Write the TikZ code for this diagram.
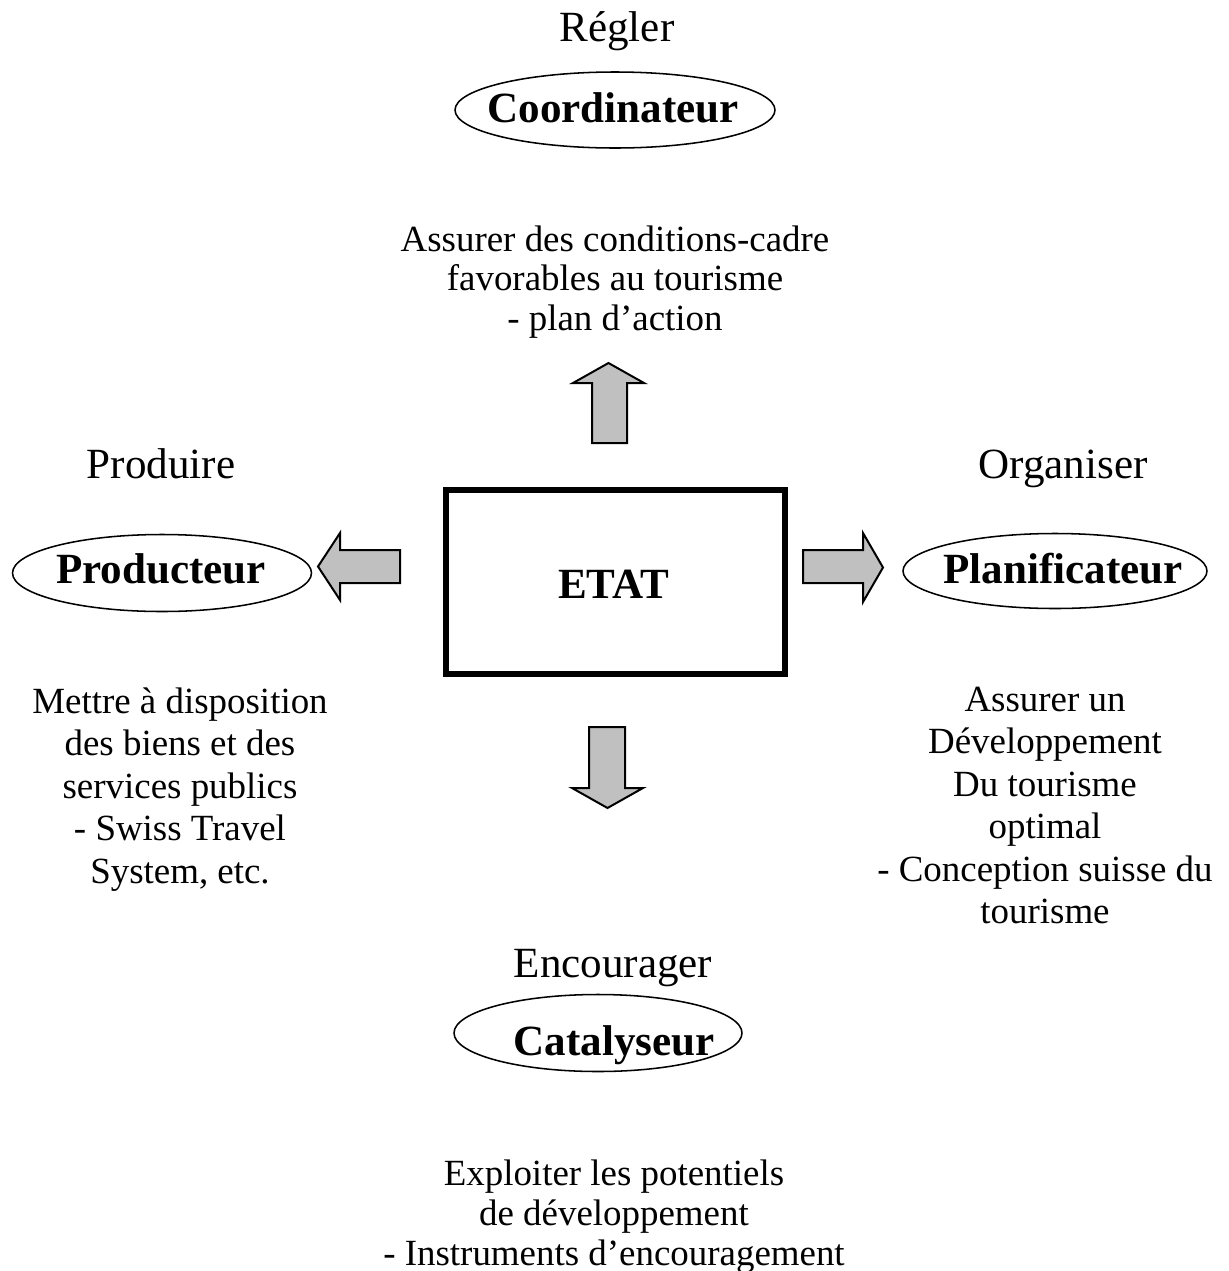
\documentclass[tikz,border=0pt]{standalone}
\usepackage{fontspec}
\setmainfont{Liberation Serif}
\usetikzlibrary{shapes.geometric}
\definecolor{arrowgray}{HTML}{C0C0C0}
\begin{document}
\begin{tikzpicture}[x=0.325pt, y=-0.325pt,
  every node/.style={inner sep=0pt, outer sep=0pt},
  heading/.style={font=\fontsize{14}{16.1}\selectfont, anchor=base},
  rolering/.style={draw=black, line width=0.5pt, ellipse},
  rolelabel/.style={font=\fontsize{14}{16.1}\selectfont\bfseries, anchor=base},
  mission/.style={font=\fontsize{12}{13.8}\selectfont, align=center},
  tightmission/.style={font=\fontsize{12}{12.9}\selectfont, align=center},
  statebox/.style={draw=black, line width=1.95pt, minimum width={339*0.325pt}, minimum height={184*0.325pt}},
  blockarrow/.style={fill=arrowgray, draw=black, line width=0.65pt, line join=miter}]
\useasboundingbox (0,0) rectangle (1228,1271);

% central box
\node[statebox] (etat) at (615.5,582) {};
\node[rolelabel] (etatlabel) at (613.5,598) {ETAT};

% top: coordinator
\node[heading] (regler) at (617,41) {Régler};
\node[rolering, minimum width={320*0.325pt}, minimum height={76*0.325pt}] (coordE) at (615,110) {};
\node[rolelabel] (coord) at (613,122) {Coordinateur};
\node[tightmission] (coordtxt) at (615,282) {Assurer des conditions-cadre\\favorables au tourisme\\- plan d’action};
\draw[blockarrow] (573,383) -- (608.5,363) -- (644,383) -- (627,383) -- (627,443)
  -- (592,443) -- (592,383) -- cycle;

% left: producer
\node[heading] (produire) at (161,478) {Produire};
\node[rolering, minimum width={299*0.325pt}, minimum height={77*0.325pt}] (prodE) at (162,573) {};
\node[rolelabel] (prod) at (161,583) {Producteur};
\node[mission] (prodtxt) at (180,789.5) {Mettre à disposition\\des biens et des\\services publics\\- Swiss Travel\\System, etc.};
\draw[blockarrow] (318,566.5) -- (340,533) -- (340,550) -- (400,550) -- (400,583)
  -- (340,583) -- (340,600) -- cycle;

% right: planner
\node[heading] (organiser) at (1063,478) {Organiser};
\node[rolering, minimum width={304*0.325pt}, minimum height={75*0.325pt}] (planE) at (1055,571) {};
\node[rolelabel] (plan) at (1063,583) {Planificateur};
\node[mission] (plantxt) at (1045,805.5) {Assurer un\\Développement\\Du tourisme\\optimal\\- Conception suisse du\\tourisme};
\draw[blockarrow] (883,567.5) -- (863,533) -- (863,550) -- (803,550) -- (803,583)
  -- (863,583) -- (863,602) -- cycle;

% bottom: catalyst
\draw[blockarrow] (607.5,808) -- (572,788) -- (589,788) -- (589,727) -- (625,727)
  -- (625,788) -- (643,788) -- cycle;
\node[heading] (encourager) at (613,977) {Encourager};
\node[rolering, minimum width={288*0.325pt}, minimum height={77*0.325pt}] (catE) at (598,1033) {};
\node[rolelabel] (cat) at (614,1055) {Catalyseur};
\node[tightmission] (cattxt) at (614,1216.5) {Exploiter les potentiels\\de développement\\- Instruments d’encouragement};
\end{tikzpicture}
\end{document}
